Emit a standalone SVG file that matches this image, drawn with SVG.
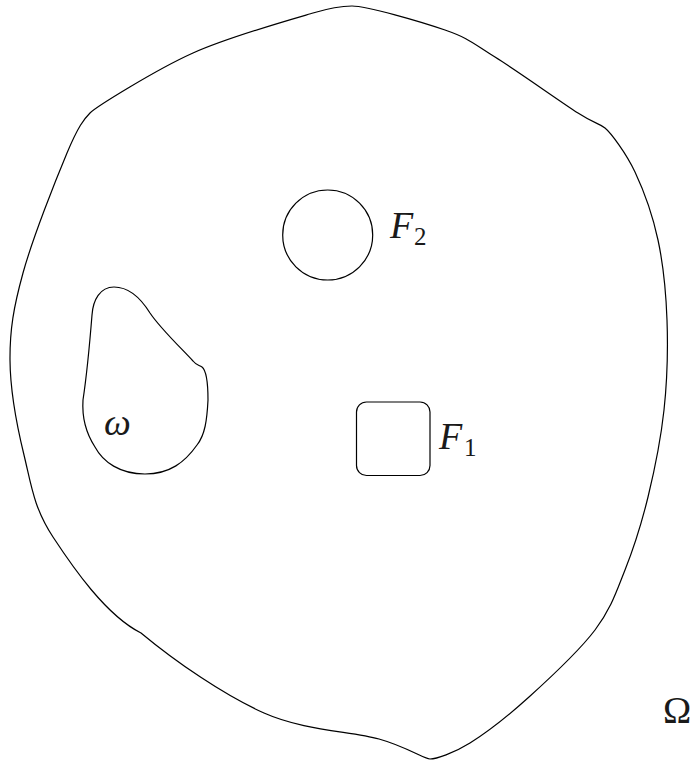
<svg xmlns="http://www.w3.org/2000/svg" width="691" height="760" viewBox="0 0 691 760">
<rect width="691" height="760" fill="#fff"/>
<g fill="none" stroke="#000" stroke-width="1.2" stroke-linejoin="round">
<g id="Omega">
<path d="M352,6 C367,6 420.5,21.5 445,30 C469.5,38.5 472.8,43.2 495,57 C517.2,70.8 559.7,101.2 578,113 C596.3,124.8 599,123 605,128 C611,133 626.2,153.3 635,172 C643.8,190.7 652.7,215.3 658,240 C663.3,264.7 666,291.7 667,320 C668,348.3 667.2,380.5 664,410 C660.8,439.5 654.5,470.3 648,497 C641.5,523.7 633.8,547.8 625,570 C616.2,592.2 611,608.8 595,630 C579,651.2 549.8,678.2 529,697 C508.2,715.8 486.5,732.7 470,743 C453.5,753.3 436,759 430,759 C424,759 406.7,746.7 379,739 C351.3,731.3 303.7,730.7 264,713 C224.3,695.3 176.2,662.3 141,633 C105.8,615.3 72.5,566.7 53,537 C33.5,507.3 31.2,484.5 24,455 C16.8,425.5 10.2,390.3 10,360 C9.8,329.7 13.5,307.5 23,273 C32.5,238.5 55.8,179.7 67,153 C78.2,126.3 84,119 90,113 C96,107 155.8,69.7 193,53 C230.2,36.3 301,16.6 313,13 C325,9.4 337,6 352,6 Z"/>
</g>
<g id="F2"><circle cx="327.7" cy="235" r="45"/></g>
<g id="F1"><rect x="356.5" y="402" width="73.5" height="73.5" rx="10"/></g>
<g id="omega">
<path d="M114,287 C128,287 140,297 150,313 C160,328 180,347 193,361 C196,365 199,365 202,367 C207,371 208,385 208,400 C207,420 205,435 197,445 C185,462 170,474 145,474 C120,474 103,462 95,447 C84,430 82,415 83,400 C86,380 90,340 92,315 C93,300 100,287 114,287 Z"/>
</g>
</g>
<g id="labels" fill="#1a1a1a">
<text x="663" y="723" font-size="38" style="font-family:'Liberation Serif',serif">Ω</text>
<text x="390" y="238" font-size="38" style="font-family:'Liberation Serif',serif;font-style:italic">F</text>
<text x="414" y="245" font-size="25" style="font-family:'Liberation Serif',serif">2</text>
<text x="439" y="449" font-size="38" style="font-family:'Liberation Serif',serif;font-style:italic">F</text>
<text x="464" y="456" font-size="25" style="font-family:'Liberation Serif',serif">1</text>
<text x="104" y="435" font-size="38" style="font-family:'Liberation Serif',serif;font-style:italic">ω</text>
</g>
<g id="connectors"/>
</svg>
